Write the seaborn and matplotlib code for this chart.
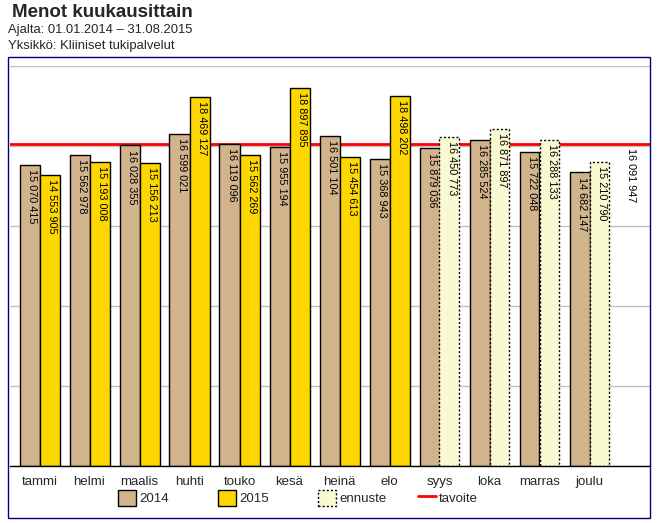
import numpy as np
import pandas as pd
import seaborn as sns
import matplotlib
matplotlib.use('Agg')
import matplotlib.pyplot as plt
from matplotlib.patches import Rectangle, Patch
from matplotlib.lines import Line2D

kuukaudet = ['tammi', 'helmi', 'maalis', 'huhti', 'touko', 'kesä',
             'heinä', 'elo', 'syys', 'loka', 'marras', 'joulu']
menot_2014 = [15070415, 15562978, 16028355, 16599021, 16119096, 15955194,
              16501104, 15368943, 15879036, 16285524, 15722048, 14682147]
# 2015: toteuma tammi-elo, ennuste syys-joulu
menot_2015 = [14553905, 15193008, 15156213, 18469127, 15562269, 18897895,
              15454613, 18498202, 16450773, 16871897, 16288133, 15210790]
ennuste_alku = 8
tavoite = 16091947

sns.set_style('white')
plt.rcParams['font.family'] = ['Liberation Sans', 'DejaVu Sans']

df = pd.DataFrame({
    'kuukausi': kuukaudet * 2,
    'vuosi': ['2014'] * 12 + ['2015'] * 12,
    'menot': menot_2014 + menot_2015,
})

W, H = 657, 523
fig = plt.figure(figsize=(W / 100, H / 100), dpi=100)
ax = fig.add_axes([10 / W, 1 - 466 / H, 640 / W, 400 / H])

ax.axhline(tavoite, color='red', lw=2, zorder=1.5)

sns.barplot(data=df, x='kuukausi', y='menot', hue='vuosi',
            palette={'2014': '#D2B48C', '2015': '#FFD700'},
            edgecolor='black', linewidth=1, saturation=1, width=0.8,
            legend=False, ax=ax, zorder=2)

for bar in ax.containers[1][ennuste_alku:]:
    bar.set_facecolor('#FAFAD2')
    bar.set_linestyle((0, (1.5, 1.5)))

def fmt(v):
    return f'{v:,}'.replace(',', ' ')

for cont in ax.containers:
    for bar in cont:
        h = bar.get_height()
        x = bar.get_x() + bar.get_width() / 2
        ax.annotate(fmt(int(round(h))), (x, h), xytext=(2, -3),
                    textcoords='offset points', rotation=-90,
                    ha='center', va='top', fontsize=7.8, color='black',
                    zorder=4)

ax.annotate(fmt(tavoite), (11.82, tavoite), xytext=(0, -3),
            textcoords='offset points', rotation=-90,
            ha='center', va='top', fontsize=7.8, color='black')

ax.set_xlim(-0.59, 12.21)
ax.set_ylim(0, 20000000)
ax.set_yticks(np.arange(0, 20000001, 4000000))
ax.yaxis.grid(True, color='#c0c0c0', lw=1)
ax.set_axisbelow(True)
ax.tick_params(left=False, labelleft=False, bottom=False, labelsize=9.5, pad=4)
ax.set_xlabel('')
ax.set_ylabel('')
for s in ['top', 'left', 'right']:
    ax.spines[s].set_visible(False)
ax.spines['bottom'].set_color('black')
ax.spines['bottom'].set_linewidth(1)

# kehys
fig.patches.append(Rectangle((8 / W, 1 - 518 / H), 642 / W, 461 / H,
                             transform=fig.transFigure, fill=False,
                             edgecolor='#000080', lw=1))

# otsikot
fig.text(12 / W, 1 - 4 / H, 'Menot kuukausittain', fontsize=13.5,
         fontweight='bold', va='top', ha='left')
fig.text(8 / W, 1 - 24 / H, 'Ajalta: 01.01.2014 – 31.08.2015', fontsize=9.4,
         va='top', ha='left')
fig.text(8 / W, 1 - 40 / H, 'Yksikkö: Kliiniset tukipalvelut', fontsize=9.4,
         va='top', ha='left')

# selite
selite = [
    (Patch(facecolor='#D2B48C', edgecolor='black'), '2014', 118),
    (Patch(facecolor='#FFD700', edgecolor='black'), '2015', 218),
    (Patch(facecolor='#FAFAD2', edgecolor='black', linestyle=(0, (1.5, 1.5))), 'ennuste', 318),
    (Line2D([0], [0], color='red', lw=2), 'tavoite', 418),
]
for h, lab, xp in selite:
    fig.legend([h], [lab], loc='center left', bbox_to_anchor=(xp / W, 1 - 498 / H),
               frameon=False, fontsize=9.5, handlelength=1.4, handleheight=1.4,
               handletextpad=0.2, borderpad=0, borderaxespad=0)

fig.savefig('out.png', dpi=100)
